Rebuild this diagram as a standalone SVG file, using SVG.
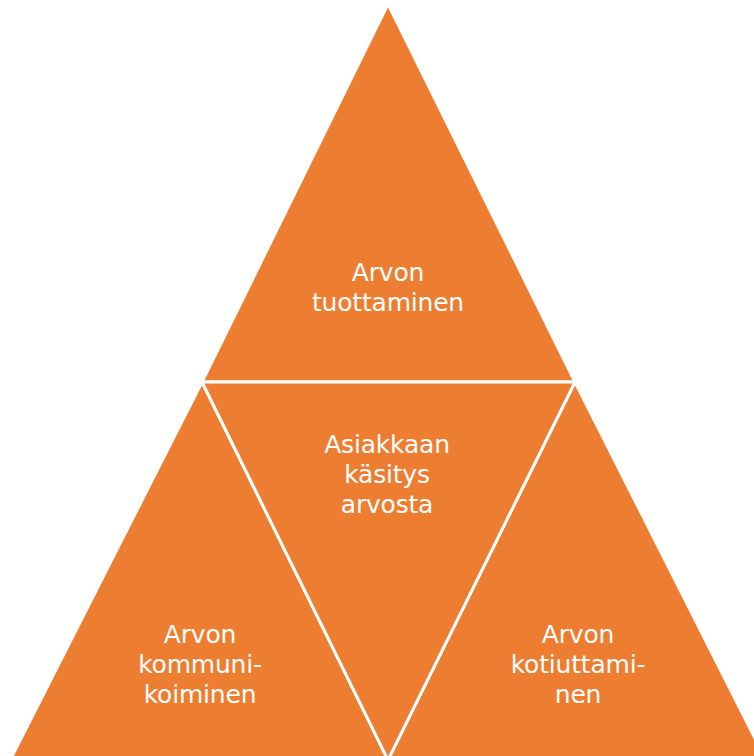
<svg xmlns="http://www.w3.org/2000/svg" width="754" height="756" viewBox="0 0 754 756">
<style>
.tri{fill:#ED7D31;stroke:#FFFFFF;stroke-width:3;stroke-linejoin:round}
.lbl{font-family:"DejaVu Sans",Verdana,sans-serif;font-size:25px;letter-spacing:-0.2px;fill:#FFFFFF;text-anchor:middle}
</style>
<rect width="754" height="756" fill="#FFFFFF"/>
<g id="node-top">
<polygon class="tri" points="388,4 202,382 575,382"/>
<text class="lbl" x="388" y="281">Arvon</text>
<text class="lbl" x="388" y="311">tuottaminen</text>
</g>
<g id="node-left">
<polygon class="tri" points="202,382 388,760 -2,784"/>
<text class="lbl" x="200" y="643">Arvon</text>
<text class="lbl" x="200" y="673">kommuni-</text>
<text class="lbl" x="200" y="703">koiminen</text>
</g>
<g id="node-right">
<polygon class="tri" points="575,382 388,760 778,784"/>
<text class="lbl" x="578" y="643">Arvon</text>
<text class="lbl" x="578" y="673">kotiuttami-</text>
<text class="lbl" x="578" y="703">nen</text>
</g>
<g id="node-center">
<polygon class="tri" points="202,382 575,382 388,760"/>
<text class="lbl" x="387" y="453">Asiakkaan</text>
<text class="lbl" x="387" y="483">käsitys</text>
<text class="lbl" x="387" y="513">arvosta</text>
</g>
<g id="connectors"></g>
</svg>
